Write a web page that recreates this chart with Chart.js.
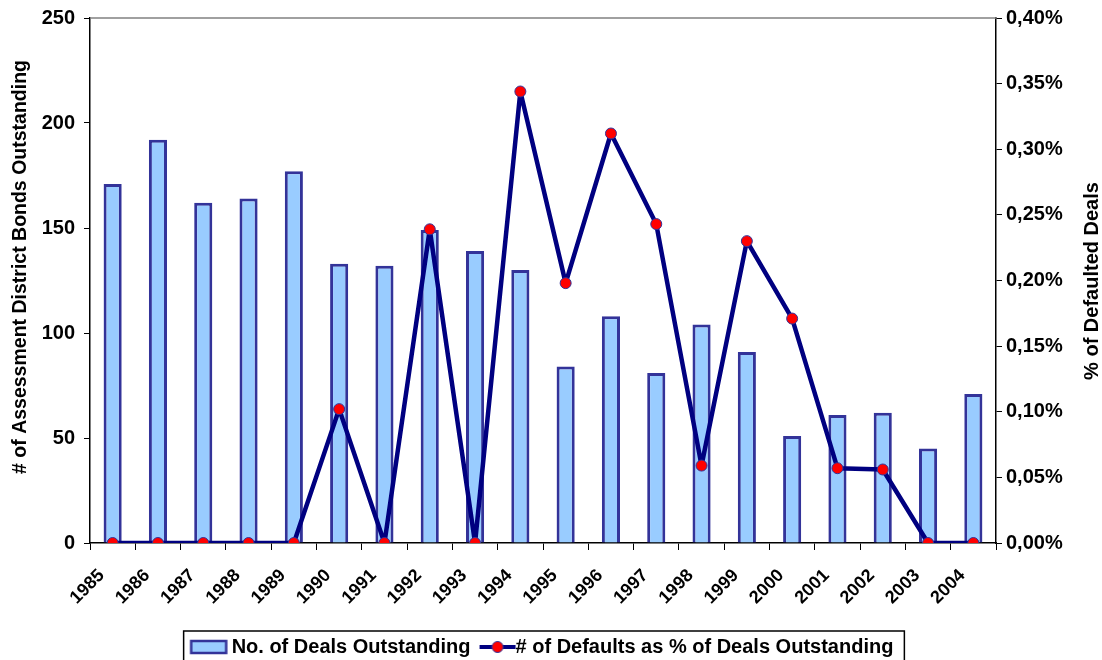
<!DOCTYPE html>
<html>
<head>
<meta charset="utf-8">
<script src="https://cdn.jsdelivr.net/npm/chart.js@4/dist/chart.umd.min.js"></script>
<style>
  html, body { margin: 0; padding: 0; background: #fff; }
  #wrap { width: 1102px; height: 660px; }
</style>
</head>
<body>
<div id="wrap"><canvas id="myChart" width="1102" height="660"></canvas></div>
<script>
const years = ['1985', '1986', '1987', '1988', '1989', '1990', '1991', '1992', '1993', '1994',
  '1995', '1996', '1997', '1998', '1999', '2000', '2001', '2002', '2003', '2004']
const dealsOutstanding = [171, 192, 162, 164, 177, 133, 132, 149, 139, 130,
  84, 108, 81, 104, 91, 51, 61, 62, 45, 71]
// percent values (0.10 = 0,10%)
const defaultPct = [0, 0, 0, 0, 0, 0.102, 0, 0.239, 0, 0.344,
  0.198, 0.312, 0.243, 0.059, 0.230, 0.171, 0.057, 0.056, 0, 0]
const leftTicks = [0, 50, 100, 150, 200, 250]

const FONT = '"Liberation Sans", Arial, sans-serif'
const NAVY = '#000080'
const BAR_FILL = '#99CCFF'
const BAR_EDGE = '#333399'

// legend swatches (drawn into a wider transparent canvas so they can sit
// closer to the text than the legend's own box spacing allows)
function swatch(kind, offset) {
  const c = document.createElement('canvas')
  c.width = 76
  c.height = 18
  const g = c.getContext('2d')
  if (kind === 'bar') {
    g.fillStyle = BAR_FILL
    g.fillRect(offset + 1.5, 3, 35, 12)
    g.strokeStyle = BAR_EDGE
    g.lineWidth = 2.5
    g.strokeRect(offset + 1.5, 3, 35, 12)
  } else {
    g.strokeStyle = NAVY
    g.lineWidth = 4
    g.beginPath()
    g.moveTo(offset, 9)
    g.lineTo(offset + 36, 9)
    g.stroke()
    g.fillStyle = '#FF0000'
    g.strokeStyle = BAR_EDGE
    g.lineWidth = 1
    g.beginPath()
    g.arc(offset + 18, 9, 5.5, 0, Math.PI * 2)
    g.fill()
    g.stroke()
  }
  return c
}
const barSwatch = swatch('bar', 22)
const lineSwatch = swatch('line', 28)

const extras = {
  id: 'extras',
  afterDraw(chart) {
    const ctx = chart.ctx
    ctx.save()
    ctx.font = 'bold 20px ' + FONT
    ctx.fillStyle = '#000'
    ctx.textAlign = 'center'
    ctx.textBaseline = 'middle'
    // left axis title
    ctx.save()
    ctx.translate(21, 267)
    ctx.rotate(-Math.PI / 2)
    ctx.font = 'bold 19.5px ' + FONT
    ctx.fillText('# of Assessment District Bonds Outstanding', 0, 0)
    ctx.restore()
    // right axis title
    ctx.save()
    ctx.translate(1092, 281)
    ctx.rotate(-Math.PI / 2)
    ctx.fillText('% of Defaulted Deals', 0, 0)
    ctx.restore()
    ctx.restore()

    // legend border
    const boxes = chart.legend.legendHitBoxes
    if (boxes && boxes.length) {
      const first = boxes[0]
      const last = boxes[boxes.length - 1]
      const l = first.left - 6
      const r = last.left + last.width + 11
      const t = first.top - 6
      ctx.save()
      ctx.strokeStyle = '#000'
      ctx.lineWidth = 1.5
      ctx.strokeRect(l, t, r - l, 680 - t)
      ctx.restore()
    }
  }
}

const topBorder = {
  id: 'topBorder',
  beforeDatasetsDraw(chart) {
    const a = chart.chartArea
    const c = chart.ctx
    c.save()
    c.strokeStyle = '#808080'
    c.lineWidth = 1.5
    c.beginPath()
    c.moveTo(a.left, a.top)
    c.lineTo(a.right, a.top)
    c.stroke()
    c.restore()
  }
}

const ctx = document.getElementById('myChart')

// eslint-disable-next-line no-unused-vars
const myChart = new Chart(ctx, {
  type: 'bar',
  data: {
    labels: years,
    datasets: [{
      type: 'line',
      label: '# of Defaults as % of Deals Outstanding',
      data: defaultPct,
      yAxisID: 'y1',
      borderColor: NAVY,
      borderWidth: 4.5,
      borderJoinStyle: 'round',
      pointRadius: 5.5,
      pointBackgroundColor: '#FF0000',
      pointBorderColor: BAR_EDGE,
      pointBorderWidth: 1,
      lineTension: 0,
      order: 0
    }, {
      label: 'No. of Deals Outstanding',
      data: dealsOutstanding,
      yAxisID: 'y',
      backgroundColor: BAR_FILL,
      borderColor: BAR_EDGE,
      borderWidth: 3,
      barPercentage: 0.4,
      categoryPercentage: 1,
      order: 1
    }]
  },
  options: {
    responsive: false,
    animation: false,
    layout: { padding: { top: 18, left: 0, right: 19, bottom: -7 } },
    plugins: {
      tooltip: { enabled: false },
      legend: {
        position: 'bottom',
        labels: {
          usePointStyle: true,
          pointStyleWidth: 32,
          padding: 3,
          color: '#000',
          font: { family: FONT, size: 20, weight: 'bold' },
          generateLabels: () => [
            { text: 'No. of Deals Outstanding', pointStyle: barSwatch, datasetIndex: 1, lineWidth: 0, fontColor: '#000' },
            { text: '# of Defaults as % of Deals Outstanding', pointStyle: lineSwatch, datasetIndex: 0, lineWidth: 0, fontColor: '#000' }
          ]
        }
      }
    },
    scales: {
      x: {
        offset: true,
        grid: {
          offset: true,
          drawOnChartArea: false,
          color: '#000',
          tickLength: 7,
          tickWidth: 1
        },
        border: { color: '#000', width: 1.5 },
        ticks: {
          color: '#000',
          font: { family: FONT, size: 18, weight: 'bold' },
          minRotation: 45,
          maxRotation: 45,
          labelOffset: -11,
          padding: 15
        },
        afterFit: (scale) => { scale.height = 91 }
      },
      y: {
        position: 'left',
        min: 0,
        max: 250,
        afterBuildTicks: (scale) => { scale.ticks = leftTicks.map(v => ({ value: v })) },
        grid: {
          drawOnChartArea: false,
          color: '#000',
          tickLength: 6
        },
        border: { color: '#000', width: 1.5 },
        ticks: {
          color: '#000',
          font: { family: FONT, size: 20, weight: 'bold' },
          padding: 9
        },
        afterFit: (scale) => {
          scale.width = 90
          scale.paddingTop = 0
        }
      },
      y1: {
        position: 'right',
        min: 0,
        max: 0.4,
        grid: {
          drawOnChartArea: false,
          color: '#000',
          tickLength: 6
        },
        border: { color: '#000', width: 1.5 },
        ticks: {
          stepSize: 0.05,
          color: '#000',
          font: { family: FONT, size: 20, weight: 'bold' },
          padding: 4,
          callback: (v) => v.toFixed(2).replace('.', ',') + '%'
        },
        afterFit: (scale) => {
          scale.width = 87
          scale.paddingTop = 0
        }
      }
    }
  },
  plugins: [extras, topBorder]
})
</script>
</body>
</html>
